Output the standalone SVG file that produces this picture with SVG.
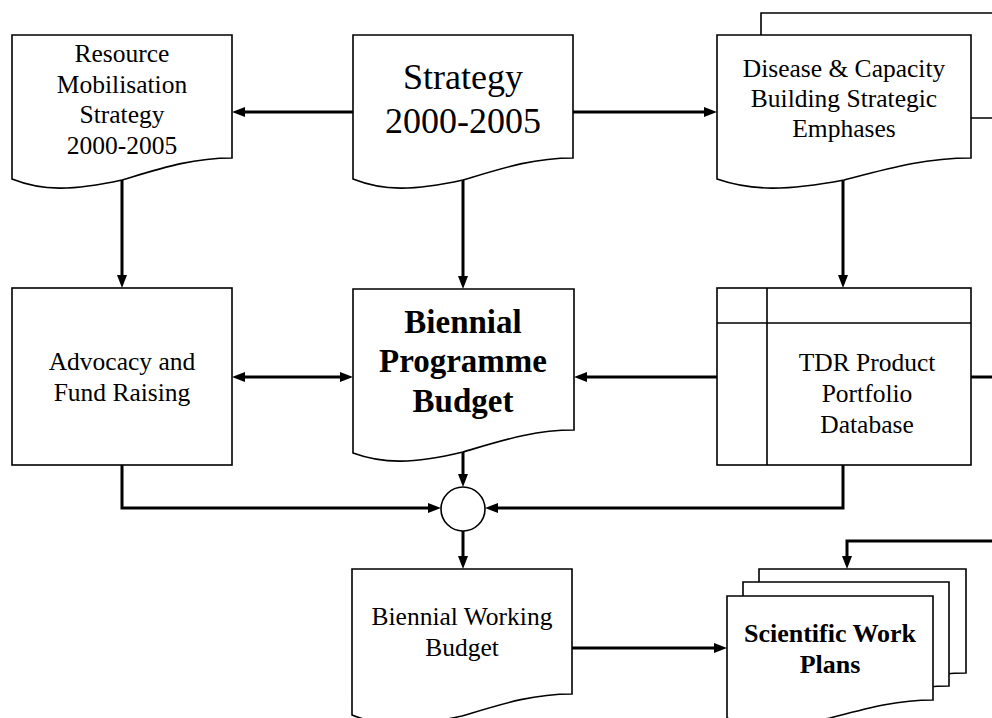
<svg xmlns="http://www.w3.org/2000/svg" width="992" height="718" viewBox="0 0 992 718">
  <style>
    .shape { fill: #fff; stroke: #000; stroke-width: 1.6; stroke-linejoin: miter; }
    .rule { fill: none; stroke: #000; stroke-width: 1.6; }
    .conn { fill: none; stroke: #000; stroke-width: 3; }
    .txt { font-family: "Liberation Serif", "Times New Roman", serif; font-size: 25.5px; fill: #000; text-anchor: middle; }
    .big { font-size: 36px; }
    .bold { font-weight: bold; }
  </style>
  <defs>
    <marker id="arrow" viewBox="0 0 13 10" refX="0" refY="5" markerWidth="13" markerHeight="10" markerUnits="userSpaceOnUse" orient="auto-start-reverse">
      <path d="M0,0 L13,5 L0,10 Z" fill="#000"/>
    </marker>
  </defs>

  <rect width="992" height="718" fill="#fff"/>

  <!-- connectors -->
  <g id="connectors">
    <path class="conn" d="M353,112 H245" marker-end="url(#arrow)"/>
    <path class="conn" d="M573,112 H704" marker-end="url(#arrow)"/>
    <path class="conn" d="M122,180 V275" marker-end="url(#arrow)"/>
    <path class="conn" d="M463,180 V276" marker-end="url(#arrow)"/>
    <path class="conn" d="M843,180 V275" marker-end="url(#arrow)"/>
    <path class="conn" d="M245,377 H340" marker-start="url(#arrow)" marker-end="url(#arrow)"/>
    <path class="conn" d="M717,377 H587" marker-end="url(#arrow)"/>
    <path class="conn" d="M971,377 H992"/>
    <path class="conn" d="M463,452 V474" marker-end="url(#arrow)"/>
    <path class="conn" d="M122,465 V508 H428" marker-end="url(#arrow)"/>
    <path class="conn" d="M843,465 V508 H498" marker-end="url(#arrow)"/>
    <path class="conn" d="M463,531 V556" marker-end="url(#arrow)"/>
    <path class="conn" d="M572,648 H714" marker-end="url(#arrow)"/>
    <path class="conn" d="M995,541 H847 V556" marker-end="url(#arrow)"/>
  </g>

  <!-- Resource Mobilisation Strategy (document) -->
  <g id="resource-mobilisation">
    <path class="shape" d="M12,35 H232 V158 C192,158 162,168 122,180 C72,191 42,191 12,179 Z"/>
    <text class="txt" x="122" y="62">Resource</text>
    <text class="txt" x="122" y="93">Mobilisation</text>
    <text class="txt" x="122" y="123">Strategy</text>
    <text class="txt" x="122" y="154">2000-2005</text>
  </g>

  <!-- Strategy 2000-2005 (document) -->
  <g id="strategy">
    <path class="shape" d="M353,35 H573 V158 C533,158 503,168 463,180 C413,191 383,191 353,179 Z"/>
    <text class="txt big" x="463" y="89">Strategy</text>
    <text class="txt big" x="463" y="133">2000-2005</text>
  </g>

  <!-- Disease & Capacity Building Strategic Emphases (multi-document) -->
  <g id="strategic-emphases">
    <path class="shape" d="M761,13 H1000 V118 H900 L761,140 Z"/>
    <path class="shape" d="M717,35 H971 V158 C925,158 890,168 844,180 C786,191 752,191 717,179 Z"/>
    <text class="txt" x="844" y="77">Disease &amp; Capacity</text>
    <text class="txt" x="844" y="107">Building Strategic</text>
    <text class="txt" x="844" y="137">Emphases</text>
  </g>

  <!-- Advocacy and Fund Raising (process) -->
  <g id="advocacy">
    <rect class="shape" x="12" y="288" width="220" height="177"/>
    <text class="txt" x="122" y="370">Advocacy and</text>
    <text class="txt" x="122" y="401">Fund Raising</text>
  </g>

  <!-- Biennial Programme Budget (document) -->
  <g id="programme-budget">
    <path class="shape" d="M353,289 H574 V430 C534,430 504,440 463,452 C413,464 383,464 353,453 Z"/>
    <text class="txt bold" style="font-size:33px" x="463" y="333">Biennial</text>
    <text class="txt bold" style="font-size:33px" x="463" y="372">Programme</text>
    <text class="txt bold" style="font-size:33px" x="463" y="412">Budget</text>
  </g>

  <!-- TDR Product Portfolio Database (internal storage) -->
  <g id="portfolio-database">
    <rect class="shape" x="717" y="288" width="254" height="177"/>
    <path class="rule" d="M767,288 V465 M717,323 H971"/>
    <text class="txt" x="867" y="371">TDR Product</text>
    <text class="txt" x="867" y="402">Portfolio</text>
    <text class="txt" x="867" y="433">Database</text>
  </g>

  <!-- merge point -->
  <g id="merge">
    <circle class="shape" cx="463" cy="509" r="22"/>
  </g>

  <!-- Biennial Working Budget (document) -->
  <g id="working-budget">
    <path class="shape" d="M352,569 H572 V694 C532,694 502,704 462,716 C412,727 382,727 352,715 Z"/>
    <text class="txt" x="462" y="625">Biennial Working</text>
    <text class="txt" x="462" y="656">Budget</text>
  </g>

  <!-- Scientific Work Plans (multi-document) -->
  <g id="work-plans">
    <path class="shape" d="M759,569 H966 V673 C929,673 901,681 863,691 C816,700 788,700 759,691 Z"/>
    <path class="shape" d="M743,582 H949 V686 C912,686 884,694 846,704 C799,713 771,713 743,704 Z"/>
    <path class="shape" d="M727,596 H933 V700 C896,700 868,708 830,718 C783,727 755,727 727,718 Z"/>
    <text class="txt bold" style="font-size:26px" x="830" y="642">Scientific Work</text>
    <text class="txt bold" style="font-size:26px" x="830" y="673">Plans</text>
  </g>
</svg>
